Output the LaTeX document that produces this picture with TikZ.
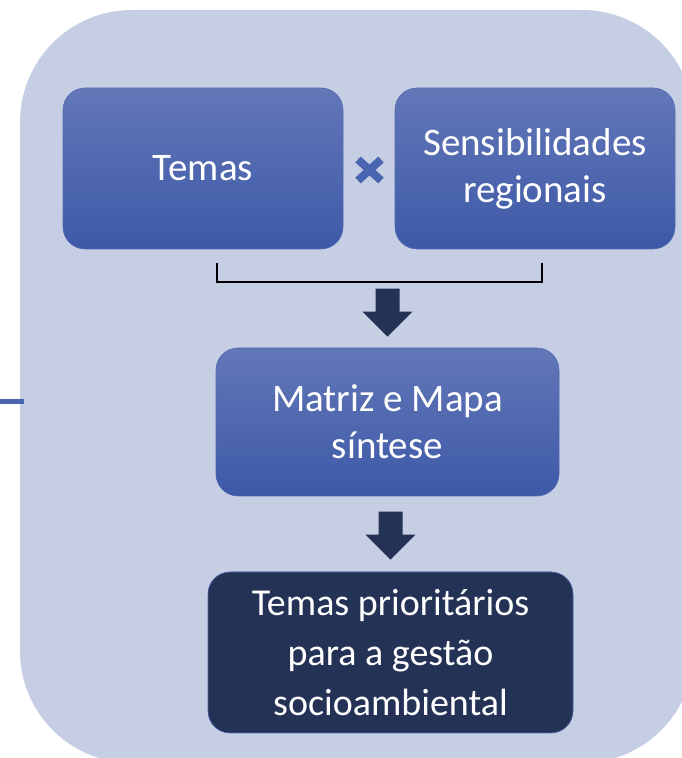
\documentclass[tikz,border=0pt]{standalone}
\usepackage{fontspec}
\setmainfont{Carlito}
\usepackage{tikz}
\usetikzlibrary{calc}
\definecolor{panelbg}{RGB}{197,206,227}
\definecolor{boxtop}{RGB}{99,119,184}
\definecolor{boxbot}{RGB}{61,89,167}
\definecolor{boxline}{RGB}{84,106,178}
\definecolor{navy}{RGB}{36,50,86}
\definecolor{crossblue}{RGB}{74,102,176}
\def\barrow{-- ++(24,0) -- ++(0,-23) -- ++(13,0) -- ++(-25,-25) -- ++(-25,25) -- ++(13,0) -- cycle}
\tikzset{
  bluebox/.style={draw=boxline, line width=0.6pt, rounded corners=22pt,
    top color=boxtop, bottom color=boxbot, text=white, align=center,
    minimum width=280pt, minimum height=161pt, inner sep=0pt,
    font=\fontsize{39}{47}\selectfont},
  darkbox/.style={bluebox, fill=navy, top color=navy, bottom color=navy,
    minimum width=365pt, font=\fontsize{38}{50}\selectfont},
  bigarrow/.style={fill=navy}
}
\begin{document}
\begin{tikzpicture}[x=1pt,y=1pt]
\useasboundingbox (0,0) rectangle (682,758);
\fill[panelbg, rounded corners=112pt] (20,-5) rectangle (694,748);
% stub on the left
\coordinate (stubL) at (0,356);
\coordinate (stubR) at (24,356);
\draw[crossblue, line width=5pt] (stubL) -- (stubR);
% boxes
\node[bluebox] (temas) at (203,589.5) {Temas};
\node[bluebox] (sens) at (535,589.5) {Sensibilidades\\regionais};
\node[bluebox, minimum width=343pt, minimum height=148pt] (mat) at (387.5,336) {Matriz e Mapa\\síntese};
\node[darkbox] (prio) at (390.5,105.5) {Temas prioritários\\para a gestão\\socioambiental};
% cross between the two upper boxes
\coordinate (cross) at ($(temas.east)!0.5!(sens.west)+(0.5,-1.5)$);
\draw[crossblue, line width=8pt] ($(cross)+(-11.5,-10.5)$) -- ($(cross)+(11.5,10.5)$)
      ($(cross)+(-11.5,10.5)$) -- ($(cross)+(11.5,-10.5)$);
% bracket
\coordinate (brA) at (217,495);
\coordinate (brB) at (542,495);
\draw[black, line width=2pt] (brA) -- ++(0,-19) -| (brB);
% arrows
\fill[bigarrow] ([xshift=-12pt,yshift=59pt]mat.north) \barrow;
\fill[bigarrow] ([xshift=-12pt,yshift=60pt]prio.north) \barrow;
\end{tikzpicture}
\end{document}
